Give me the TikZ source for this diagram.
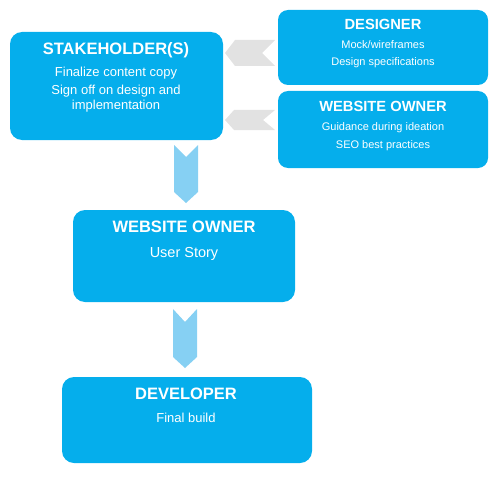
\documentclass[tikz,border=0pt]{standalone}
\usepackage{fontspec}
\setmainfont{Liberation Sans}
\definecolor{boxblue}{HTML}{05AEEC}
\definecolor{arrowblue}{HTML}{86D0F3}
\definecolor{arrowgrey}{HTML}{E2E2E2}
\tikzset{
  box/.style={fill=boxblue, draw=none, rounded corners=12pt, inner sep=0pt},
  sbox/.style={fill=boxblue, draw=none, rounded corners=10pt, inner sep=0pt},
  ttl/.style={text=white, font=\bfseries\fontsize{16.5}{18}\selectfont, anchor=base, inner sep=0pt},
  sttl/.style={text=white, font=\bfseries\fontsize{14.7}{17}\selectfont, anchor=base, inner sep=0pt},
  txt/.style={text=white, font=\fontsize{13}{15}\selectfont, anchor=base, inner sep=0pt},
  stxt/.style={text=white, font=\fontsize{11}{13}\selectfont, anchor=base, inner sep=0pt},
  downarrow/.style={fill=arrowblue, draw=none},
  leftarrow/.style={fill=arrowgrey, draw=none}
}
\begin{document}
\begin{tikzpicture}[x=1pt, y=-1pt]
\useasboundingbox (0,0) rectangle (500,476);
% boxes
\node[box, minimum width=213pt, minimum height=108pt] (stake) at (116.5,86) {};
\node[sbox, minimum width=210pt, minimum height=75pt] (designer) at (383,47.5) {};
\node[sbox, minimum width=210pt, minimum height=77pt] (ownerR) at (383,129.5) {};
\node[box, minimum width=222pt, minimum height=92pt] (ownerM) at (184,256) {};
\node[box, minimum width=250pt, minimum height=86pt] (dev) at (187,420) {};
% texts
\node[ttl] (t1) at (116,55) {STAKEHOLDER(S)};
\node[txt] (t1a) at (116,77) {Finalize content copy};
\node[txt] (t1b) at (116,95) {Sign off on design and};
\node[txt] (t1c) at (116,110) {implementation};
\node[sttl] (t2) at (383,30) {DESIGNER};
\node[stxt] (t2a) at (383,49) {Mock/wireframes};
\node[stxt] (t2b) at (383,66) {Design specifications};
\node[sttl] (t3) at (383,112) {WEBSITE OWNER};
\node[stxt] (t3a) at (383,131) {Guidance during ideation};
\node[stxt] (t3b) at (383,148) {SEO best practices};
\node[ttl] (t4) at (184,232) {WEBSITE OWNER};
\node[txt, font=\fontsize{14.5}{16}\selectfont] (t4a) at (184,257) {User Story};
\node[ttl] (t5) at (186,399) {DEVELOPER};
\node[txt] (t5a) at (186,422) {Final build};
% grey arrows (left)
\fill[leftarrow] (225,53) -- (235,40) -- (275,40) -- (262,53) -- (275,66) -- (235,66) -- cycle;
\fill[leftarrow] (225,120) -- (234,110) -- (275,110) -- (263,120) -- (275,130) -- (234,130) -- cycle;
% blue down arrows
\fill[downarrow] (174,145) -- (186,157) -- (198,145) -- (198,192) -- (186,203) -- (174,192) -- cycle;
\fill[downarrow] (173,309) -- (185,322) -- (197,309) -- (197,357) -- (185,368) -- (173,357) -- cycle;
\end{tikzpicture}
\end{document}
